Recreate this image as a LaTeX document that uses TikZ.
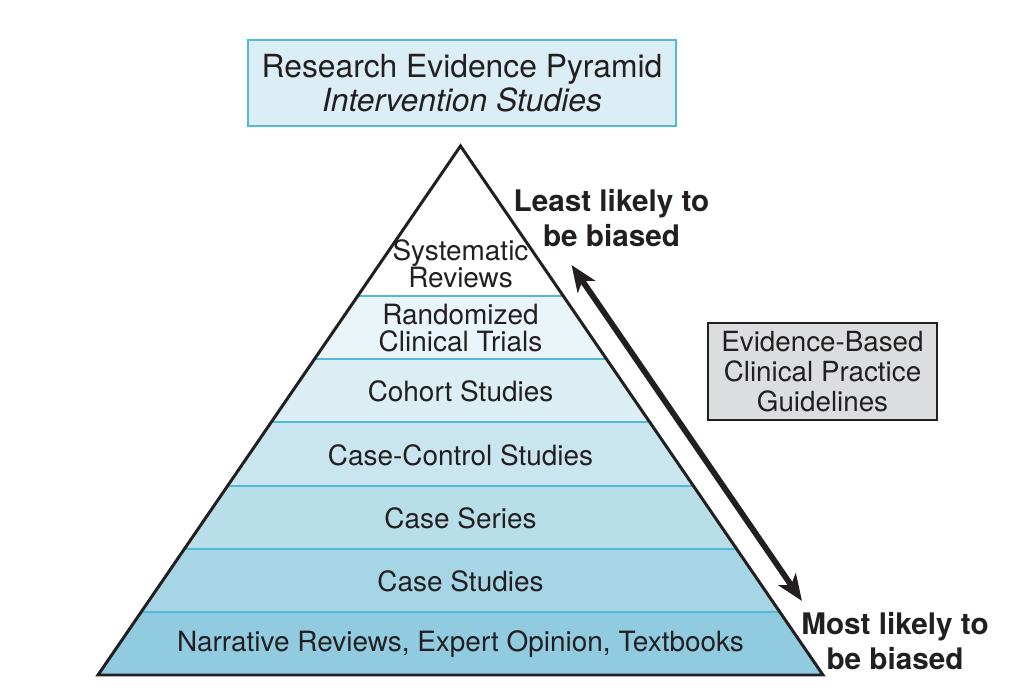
\documentclass[tikz,border=0pt]{standalone}
\usepackage{fontspec}
\setmainfont{TeX Gyre Heros}
\usepackage{xcolor}
\usetikzlibrary{arrows.meta}
\tikzset{>={Stealth[length=15pt,width=12pt,inset=4pt]}}
\definecolor{ink}{HTML}{231F20}
\definecolor{boxblue}{HTML}{DCEEF5}
\definecolor{edgeblue}{HTML}{52B8D5}
\definecolor{boxgray}{HTML}{DCDDDE}
\definecolor{bandA}{HTML}{EAF5F9}
\definecolor{bandB}{HTML}{DAEEF4}
\definecolor{bandC}{HTML}{C9E6F0}
\definecolor{bandD}{HTML}{B8DEEA}
\definecolor{bandE}{HTML}{A6D5E5}
\definecolor{bandF}{HTML}{90CBE0}
\tikzstyle{layer}=[text=ink,align=center,font=\fontsize{15.9}{15.6}\selectfont]
\tikzstyle{sep}=[edgeblue,line width=1.2pt]
\tikzstyle{bias}=[text=ink,align=center,font=\bfseries\fontsize{16.9}{19.8}\selectfont]
\def\xmax{20.72}
\def\ymax{13.88}

\begin{document}
\begin{tikzpicture}
      \useasboundingbox (0,0) rectangle (\xmax,\ymax);
      \def\xc{9.21}
      \coordinate (A) at (\xc,10.96);
      \coordinate (L) at (1.96,0.38);
      \coordinate (R) at (16.46,0.38);

      % TITLE
      \node[draw=edgeblue,fill=boxblue,line width=1.6pt,text=ink,
        minimum width=8.56cm,minimum height=1.72cm,align=center,
        font=\fontsize{18.1}{19.6}\selectfont] (title) at (9.24,12.22)
        {Research Evidence Pyramid\\\textit{Intervention Studies}};

      % PYRAMID
      \begin{scope}
        \clip (A) -- (L) -- (R) -- cycle;
        \foreach \ytop/\ybot/\col in {7.96/6.696/bandA,6.696/5.432/bandB,
            5.432/4.168/bandC,4.168/2.904/bandD,2.904/1.64/bandE,1.64/0.3/bandF}
          \fill[\col] (0,\ybot) rectangle (\xmax,\ytop);
        \foreach \y in {7.96,6.696,5.432,4.168,2.904,1.64}
          \draw[sep] (0,\y) -- (\xmax,\y);
      \end{scope}
      \draw[ink,line width=1.7pt,line join=miter] (A) -- (L) -- (R) -- cycle;

      \node[layer] (sys) at (\xc,8.6) {Systematic\\Reviews};
      \node[layer] (rct) at (\xc,7.32) {Randomized\\Clinical Trials};
      \node[layer] (coh) at (\xc,6.05) {Cohort Studies};
      \node[layer] (cc) at (\xc,4.78) {Case-Control Studies};
      \node[layer] (ser) at (\xc,3.51) {Case Series};
      \node[layer] (cs) at (\xc,2.25) {Case Studies};
      \node[layer] (nar) at (\xc,0.99) {Narrative Reviews, Expert Opinion, Textbooks};

      % BIAS
      \node[bias] (least) at (12.23,9.52) {Least likely to\\be biased};
      \node[bias] (most) at (17.9,1.06) {Most likely to\\be biased};
      \coordinate (top) at (11.43,8.58);
      \coordinate (bot) at (16.04,1.86);
      \draw[<->,ink,line width=3.3pt] (top) -- (bot);

      % GUIDELINES
      \node[draw=ink,fill=boxgray,line width=1.2pt,text=ink,
        minimum width=4.58cm,minimum height=1.94cm,align=center,
        font=\fontsize{15.8}{17}\selectfont] (ebp) at (16.45,6.45)
        {Evidence-Based\\Clinical Practice\\Guidelines};
\end{tikzpicture}
\end{document}
